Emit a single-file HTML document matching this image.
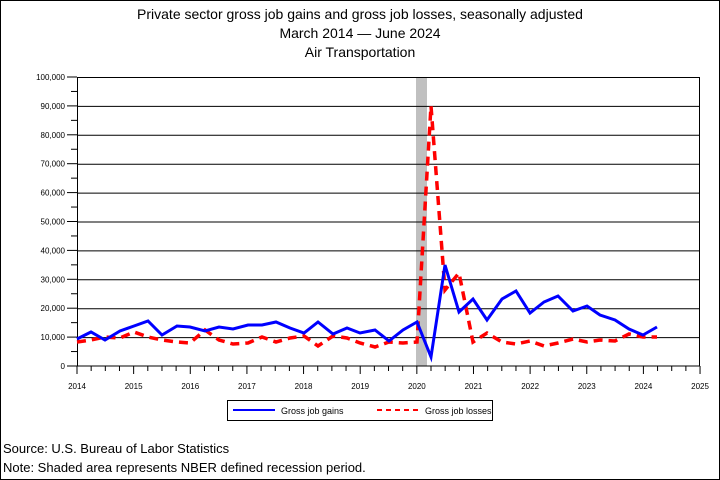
<!DOCTYPE html>
<html><head><meta charset="utf-8"><style>
html,body{margin:0;padding:0;background:#fff;}
svg{display:block;font-family:"Liberation Sans",sans-serif;}
</style></head><body>
<svg width="720" height="480" viewBox="0 0 720 480" xmlns="http://www.w3.org/2000/svg">
<rect x="0.5" y="0.5" width="719" height="479" fill="#fff" stroke="#000"/>
<text x="360" y="19" font-size="14" text-anchor="middle">Private sector gross job gains and gross job losses, seasonally adjusted</text>
<text x="360" y="38" font-size="14" text-anchor="middle">March 2014  — June 2024</text>
<text x="360" y="57" font-size="14" text-anchor="middle">Air Transportation</text>
<rect x="416" y="77" width="11" height="289" fill="#c0c0c0"/>
<g stroke="#000" stroke-width="1">
<line x1="77" y1="77.5" x2="700" y2="77.5"/>
<line x1="77" y1="106.4" x2="700" y2="106.4"/>
<line x1="77" y1="135.3" x2="700" y2="135.3"/>
<line x1="77" y1="164.2" x2="700" y2="164.2"/>
<line x1="77" y1="193.1" x2="700" y2="193.1"/>
<line x1="77" y1="222" x2="700" y2="222"/>
<line x1="77" y1="250.9" x2="700" y2="250.9"/>
<line x1="77" y1="279.8" x2="700" y2="279.8"/>
<line x1="77" y1="308.7" x2="700" y2="308.7"/>
<line x1="77" y1="337.6" x2="700" y2="337.6"/>
<line x1="77" y1="366" x2="700" y2="366"/>
<line x1="77.5" y1="77" x2="77.5" y2="366"/>
<line x1="699.5" y1="77" x2="699.5" y2="366"/>
</g>
<g id="yt" stroke="#000"></g>
<g id="xt" stroke="#000"></g>
<g font-size="8" text-anchor="end" id="yl"></g>
<g font-size="8" text-anchor="middle" id="xl"></g>
<polyline fill="none" stroke="#ff0000" stroke-width="3.5" stroke-dasharray="9,6" points="77,342 91,340 105,337 120,338 134,332 148,337 162,340 177,342 190,343 205,330 219,340 233,344 248,343 262,337 276,342 290,338 304,336 318,346 333,336 347,338 360,343 375,347 389,342 403,343 417,342 431,106 445,290 459,273 473,342 487,333 502,342 516,344 530,341 544,346 558,343 573,339 587,342 600,340 615,341 629,334 643,337 657,337"/>
<polyline fill="none" stroke="#0000ff" stroke-width="3" points="77,339 91,332 105,340 120,331 134,326 148,321 162,335 177,326 190,327 205,331 219,327 233,329 248,325 262,325 276,322 290,328 304,333 318,322 333,334 347,328 360,333 375,330 389,341 403,330 417,322 431,357 445,265 459,312 473,299 487,320 502,299 516,291 530,313 544,302 558,296 573,311 587,306 600,315 615,320 629,329 643,335 657,327"/>
<rect x="227.5" y="400.5" width="265" height="20" fill="#fff" stroke="#000"/>
<line x1="233" y1="410" x2="275" y2="410" stroke="#0000ff" stroke-width="2"/>
<text x="281" y="414" font-size="9">Gross job gains</text>
<line x1="377" y1="410" x2="419" y2="410" stroke="#ff0000" stroke-width="2" stroke-dasharray="5,4"/>
<text x="425" y="414" font-size="9">Gross job losses</text>
<text x="3" y="453" font-size="13">Source: U.S. Bureau of Labor Statistics</text>
<text x="3" y="472" font-size="13">Note: Shaded area represents NBER defined recession period.</text>
<script>
var ns="http://www.w3.org/2000/svg";
function el(p,t,a,txt){var e=document.createElementNS(ns,t);for(var k in a)e.setAttribute(k,a[k]);if(txt)e.textContent=txt;document.getElementById(p).appendChild(e);}
for(var i=0;i<=20;i++){var y=366-i*14.45;el("yt","line",{x1:i%2?71:67,x2:77,y1:y,y2:y});
 if(i%2==0){var v=i*5000;el("yl","text",{x:65,y:y+3},v==0?"0":v.toLocaleString("en-US"));}}
for(var q=0;q<=44;q++){var x=77+q*14.16;el("xt","line",{x1:x,x2:x,y1:366,y2:q%4?371:374});
 if(q%4==0)el("xl","text",{x:x,y:389},String(2014+q/4));}
</script>
</svg>
</body></html>
